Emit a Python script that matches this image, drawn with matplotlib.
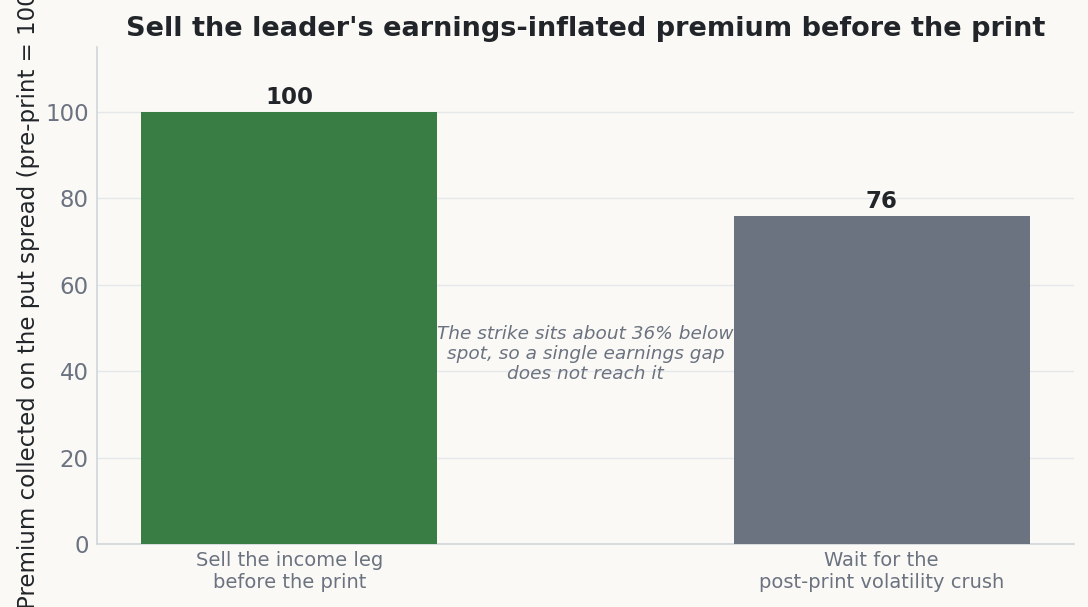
import matplotlib
matplotlib.use("Agg")
import matplotlib.pyplot as plt

# Data
categories = ["Sell the income leg\nbefore the print", "Wait for the\npost-print volatility crush"]
premium = [100, 76]
bar_colors = ["#3A7D44", "#6B7280"]

note = ("The strike sits about 36% below\n"
        "spot, so a single earnings gap\n"
        "does not reach it")

bg = "#FAF9F6"
dark = "#212529"
muted = "#6B7280"

fig = plt.figure(figsize=(10.88, 6.07), dpi=100, facecolor=bg)
ax = fig.add_axes([0.0892, 0.1038, 0.8979, 0.8188])
ax.set_facecolor(bg)

x = range(len(categories))
bars = ax.bar(x, premium, width=0.5, color=bar_colors, zorder=3)
ax.bar_label(bars, labels=[str(v) for v in premium], padding=2,
             fontsize=16.5, fontweight="bold", color=dark)

ax.set_xticks(list(x))
ax.set_xticklabels(categories, fontsize=14, color=muted)
ax.set_ylim(0, 115)
ax.set_yticks([0, 20, 40, 60, 80, 100])
ax.tick_params(axis="y", labelsize=16.5, labelcolor=muted, length=0, pad=6)
ax.tick_params(axis="x", length=0, pad=5)

ax.grid(axis="y", color="#E5E7EB", linewidth=1, zorder=0)
ax.set_axisbelow(True)
for s in ["top", "right"]:
    ax.spines[s].set_visible(False)
for s in ["left", "bottom"]:
    ax.spines[s].set_color("#D1D5DB")
    ax.spines[s].set_linewidth(1.2)

# the reference label is longer than the axes, so it runs off the top edge
ax.set_ylabel("Premium collected on the put spread (pre-print = 100)",
              fontsize=16.5, color=dark, labelpad=4)
ax.set_title("Sell the leader's earnings-inflated premium before the print",
             fontsize=19.5, fontweight="bold", color=dark, pad=8)

ax.text(0.5, 44, note, ha="center", va="center", fontsize=13.3,
        style="italic", color=muted, linespacing=1.15)

fig.savefig("out.png", dpi=100, facecolor=bg)
